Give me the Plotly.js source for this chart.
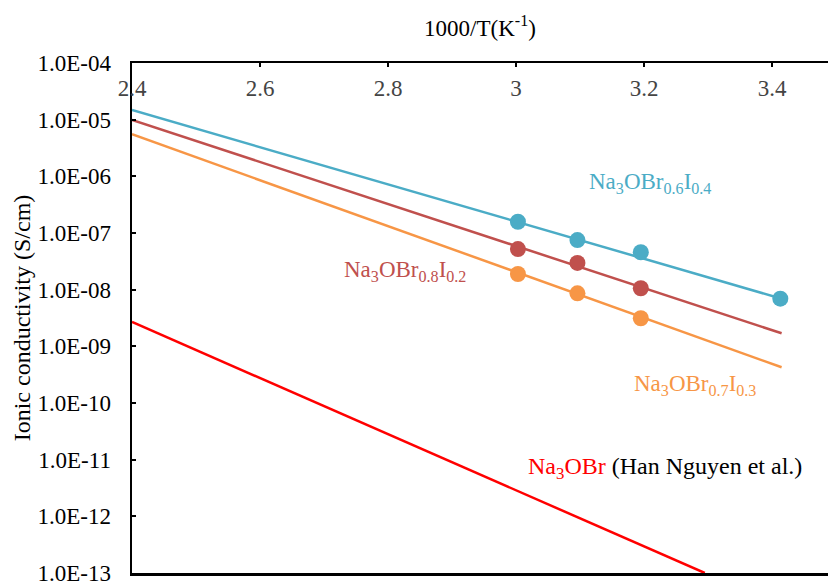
<!DOCTYPE html>
<html>
<head>
<meta charset="utf-8">
<script src="https://cdn.plot.ly/plotly-3.0.1.min.js"></script>
<style>html,body{margin:0;padding:0;background:#fff;}#chart{width:828px;height:583px;}</style>
</head>
<body>
<div id="chart"></div>
<script>
// Measured points: 1000/T (K^-1)
const xPts = [3.003, 3.096, 3.195, 3.413];
const blueY = [1.58e-7, 7.5e-8, 4.57e-8, 6.93e-9];    // Na3OBr0.6I0.4
const redY = [5.2e-8, 2.96e-8, 1.06e-8];              // Na3OBr0.8I0.2
const orangeY = [1.89e-8, 8.63e-9, 3.13e-9];          // Na3OBr0.7I0.3

// Fit lines (endpoints)
const fitX = [2.4, 3.415];
const fitBlue = [1.48e-5, 6.93e-9];
const fitRed = [9.9e-6, 1.70e-9];
const fitOrange = [5.52e-6, 4.27e-10];
const refX = [2.4, 3.295];
const refY = [2.69e-9, 1.0e-13];                      // Na3OBr (Han Nguyen et al.)

const yTickVals = [1e-4,1e-5,1e-6,1e-7,1e-8,1e-9,1e-10,1e-11,1e-12,1e-13];
const yTickText = ["1.0E-04","1.0E-05","1.0E-06","1.0E-07","1.0E-08","1.0E-09","1.0E-10","1.0E-11","1.0E-12","1.0E-13"];
const xTickVals = [2.4, 2.6, 2.8, 3.0, 3.2, 3.4];
const xTickText = ["2.4","2.6","2.8","3","3.2","3.4"];

const cBlue = "#4BACC6", cRed = "#C0504D", cOrange = "#F79646", cRef = "#FF0000";
const FONT = "Liberation Serif";

const traces = [
  {x: fitX, y: fitBlue, mode: "lines", line: {color: cBlue, width: 2.5}, hoverinfo: "skip"},
  {x: fitX, y: fitRed, mode: "lines", line: {color: cRed, width: 2.5}, hoverinfo: "skip"},
  {x: fitX, y: fitOrange, mode: "lines", line: {color: cOrange, width: 2.5}, hoverinfo: "skip"},
  {x: refX, y: refY, mode: "lines", line: {color: cRef, width: 2.5}, hoverinfo: "skip"},
  {x: xPts, y: blueY, mode: "markers", marker: {color: cBlue, size: 16}},
  {x: xPts.slice(0,3), y: redY, mode: "markers", marker: {color: cRed, size: 16}},
  {x: xPts.slice(0,3), y: orangeY, mode: "markers", marker: {color: cOrange, size: 16}}
];

const layout = {
  width: 828, height: 583,
  margin: {l: 132, r: 0, t: 63, b: 10},
  paper_bgcolor: "#fff", plot_bgcolor: "#fff",
  showlegend: false,
  font: {family: FONT, size: 23, color: "#000"},
  xaxis: {
    side: "top", range: [2.4, 3.4875], showgrid: false, zeroline: false,
    showline: true, linecolor: "#000", linewidth: 2.5, mirror: true,
    ticks: "inside", ticklen: 4, tickwidth: 2, tickcolor: "#000",
    tickvals: xTickVals, ticktext: xTickText,
    ticklabelposition: "inside", ticklabeloverflow: "allow", ticklabelstandoff: 15,
    tickfont: {family: FONT, size: 23},
    automargin: true,
    title: {text: "1000/T(K<sup>-1</sup>)", font: {family: FONT, size: 23}, standoff: 34}
  },
  yaxis: {
    type: "log", range: [-13, -4], showgrid: false, zeroline: false,
    showline: true, linecolor: "#000", linewidth: 2.5,
    ticks: "inside", ticklen: 4, tickwidth: 2, tickcolor: "#000",
    tickvals: yTickVals, ticktext: yTickText, ticklabelstandoff: 14,
    ticklabeloverflow: "allow",
    tickfont: {family: FONT, size: 23},
    title: {text: "Ionic conductivity (S/cm)", font: {family: FONT, size: 24}, standoff: 0}
  },
  annotations: [
    {x: 3.111, y: -6.126, xref: "x", yref: "y", xanchor: "left", yanchor: "middle", showarrow: false,
     text: "Na<sub>3</sub>OBr<sub>0.6</sub>I<sub>0.4</sub>", font: {family: FONT, size: 23, color: cBlue}},
    {x: 2.728, y: -7.67, xref: "x", yref: "y", xanchor: "left", yanchor: "middle", showarrow: false,
     text: "Na<sub>3</sub>OBr<sub>0.8</sub>I<sub>0.2</sub>", font: {family: FONT, size: 23, color: cRed}},
    {x: 3.181, y: -9.682, xref: "x", yref: "y", xanchor: "left", yanchor: "middle", showarrow: false,
     text: "Na<sub>3</sub>OBr<sub>0.7</sub>I<sub>0.3</sub>", font: {family: FONT, size: 23, color: cOrange}},
    {x: 3.016, y: -11.147, xref: "x", yref: "y", xanchor: "left", yanchor: "middle", showarrow: false,
     text: "<span style='color:" + cRef + "'>Na<sub>3</sub>OBr</span> (Han Nguyen et al.)", font: {family: FONT, size: 24, color: "#000"}}
  ]
};

Plotly.newPlot("chart", traces, layout, {displayModeBar: false, staticPlot: true});
</script>
</body>
</html>
